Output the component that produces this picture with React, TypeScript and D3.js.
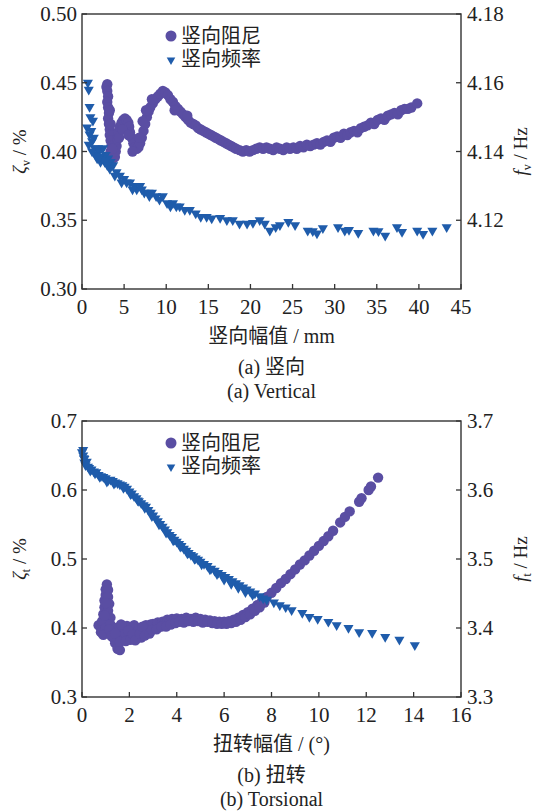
import React from 'react';
import * as d3 from 'd3';

// (a) vertical: amplitude in mm vs damping ratio (%) and frequency (Hz)
const vertDamp: [number, number][] = [
  [2.9, 0.447], [3.0, 0.449], [3.0, 0.444], [3.1, 0.440], [3.0, 0.436], [3.1, 0.432], [3.2, 0.428],
  [3.1, 0.424], [3.2, 0.420], [3.3, 0.416], [3.3, 0.412], [3.4, 0.408], [3.5, 0.404], [3.4, 0.400],
  [3.6, 0.397], [3.7, 0.395], [3.9, 0.396], [4.0, 0.400], [4.1, 0.404], [4.2, 0.409], [4.3, 0.414],
  [4.5, 0.418], [4.7, 0.421], [4.9, 0.423], [5.1, 0.424], [5.3, 0.423], [5.5, 0.421], [5.6, 0.418],
  [5.7, 0.414], [5.9, 0.410], [6.1, 0.406], [6.3, 0.403], [6.5, 0.402], [6.7, 0.403], [6.9, 0.406],
  [7.1, 0.410], [7.3, 0.415], [7.5, 0.420], [7.7, 0.425], [7.9, 0.429], [8.1, 0.432], [8.4, 0.435],
  [8.7, 0.438], [9.0, 0.440], [9.3, 0.442], [9.6, 0.444], [9.9, 0.443], [10.2, 0.441], [10.5, 0.438],
  [10.8, 0.436], [11.1, 0.433], [11.4, 0.431], [11.7, 0.429], [12.0, 0.427], [12.3, 0.425], [12.6, 0.423],
  [12.9, 0.421], [13.2, 0.420], [13.5, 0.419], [13.8, 0.417], [14.1, 0.416], [14.4, 0.415], [14.7, 0.414],
  [15.0, 0.413], [15.3, 0.412], [15.6, 0.411], [15.9, 0.410], [16.2, 0.409], [16.5, 0.408], [16.8, 0.407],
  [17.1, 0.406], [17.4, 0.405], [17.7, 0.404], [18.0, 0.403], [18.3, 0.402], [18.7, 0.401], [19.1, 0.400],
  [19.5, 0.401], [19.9, 0.400], [20.3, 0.401], [20.7, 0.402], [21.1, 0.403], [21.5, 0.402], [21.9, 0.403],
  [22.3, 0.402], [22.7, 0.401], [23.1, 0.403], [23.5, 0.402], [23.9, 0.401], [24.3, 0.403], [24.7, 0.402],
  [25.1, 0.403], [25.5, 0.402], [25.9, 0.404], [26.3, 0.403], [26.7, 0.405], [27.1, 0.404], [27.5, 0.405],
  [27.9, 0.406], [28.3, 0.405], [28.7, 0.407], [29.1, 0.408], [29.5, 0.407], [29.9, 0.410], [30.3, 0.411],
  [30.7, 0.410], [31.1, 0.413], [31.5, 0.412], [31.9, 0.414], [32.3, 0.415], [32.7, 0.414], [33.1, 0.417],
  [33.5, 0.418], [33.9, 0.419], [34.3, 0.421], [34.7, 0.420], [35.1, 0.423], [35.5, 0.424], [35.9, 0.423],
  [36.3, 0.426], [36.7, 0.427], [37.1, 0.428], [37.5, 0.427], [37.9, 0.430], [38.3, 0.431], [38.7, 0.431],
  [39.1, 0.432], [39.8, 0.435], [3.3, 0.430], [3.4, 0.420], [3.6, 0.402], [4.4, 0.410], [4.8, 0.416],
  [5.5, 0.412], [6.0, 0.400], [6.8, 0.410], [7.2, 0.422], [7.6, 0.430], [8.3, 0.438], [11.0, 0.430],
  [12.5, 0.426],
];

const vertFreq: [number, number][] = [
  [0.7, 4.160], [0.8, 4.158], [0.9, 4.153], [1.3, 4.149], [0.6, 4.147], [0.9, 4.145], [1.2, 4.143],
  [1.5, 4.141], [2.0, 4.140], [2.5, 4.141], [1.8, 4.138], [2.2, 4.137], [2.8, 4.139], [3.1, 4.138],
  [3.4, 4.137], [3.7, 4.136], [4.1, 4.134], [4.5, 4.133], [5.0, 4.132], [5.3, 4.131], [5.7, 4.131],
  [6.2, 4.130], [6.5, 4.129], [6.9, 4.130], [7.4, 4.128], [7.9, 4.128], [8.3, 4.128], [8.8, 4.127],
  [9.2, 4.126], [9.6, 4.127], [10.1, 4.125], [10.5, 4.124], [10.8, 4.125], [11.2, 4.124], [11.6, 4.124],
  [12.2, 4.123], [12.8, 4.123], [13.5, 4.122], [14.1, 4.121], [14.8, 4.121], [15.4, 4.1205], [16.4, 4.1207],
  [17.2, 4.120], [17.9, 4.120], [18.7, 4.119], [19.6, 4.119], [20.3, 4.1192], [21.1, 4.120], [21.7, 4.119],
  [22.3, 4.117], [23.0, 4.118], [23.5, 4.1186], [24.5, 4.1195], [25.3, 4.1186], [26.8, 4.117], [27.4, 4.1168],
  [27.9, 4.1162], [28.6, 4.1177], [30.4, 4.118], [31.2, 4.117], [31.7, 4.1172], [32.8, 4.1163], [34.6, 4.117],
  [35.2, 4.1168], [36.0, 4.1155], [37.4, 4.118], [38.0, 4.1166], [39.8, 4.117], [40.5, 4.116], [41.6, 4.117],
  [43.3, 4.118], [1.0, 4.150], [1.1, 4.146], [1.4, 4.144], [0.8, 4.142], [1.6, 4.139], [2.4, 4.138],
  [2.7, 4.137], [3.0, 4.136], [1.2, 4.140], [1.9, 4.141], [2.1, 4.1385], [3.3, 4.135], [3.9, 4.133],
  [4.7, 4.131], [6.0, 4.129], [7.1, 4.129], [8.0, 4.127],
];

// (b) torsional: amplitude in degrees
const torDamp: [number, number][] = [
  [0.7, 0.404], [0.8, 0.394], [0.85, 0.410], [0.9, 0.420], [0.95, 0.430], [0.95, 0.440], [1.0, 0.448],
  [1.0, 0.456], [1.05, 0.463], [1.1, 0.455], [1.1, 0.445], [1.15, 0.435], [1.1, 0.425], [1.2, 0.415],
  [1.0, 0.400], [0.9, 0.390], [1.2, 0.405], [1.3, 0.395], [1.35, 0.385], [1.4, 0.378], [1.5, 0.370],
  [1.6, 0.368], [1.45, 0.400], [1.55, 0.390], [1.7, 0.385], [1.7, 0.398], [1.8, 0.392], [1.9, 0.403],
  [2.0, 0.388], [2.1, 0.396], [2.2, 0.404], [2.3, 0.390], [2.4, 0.398], [2.5, 0.386], [2.6, 0.397],
  [2.7, 0.404], [2.8, 0.398], [2.9, 0.405], [3.0, 0.406], [3.1, 0.401], [3.2, 0.408], [3.3, 0.404],
  [3.4, 0.409], [3.5, 0.407], [3.6, 0.412], [3.7, 0.410], [3.8, 0.413], [3.9, 0.411], [4.0, 0.414],
  [4.2, 0.413], [4.4, 0.415], [4.6, 0.413], [4.8, 0.415], [5.0, 0.413], [5.2, 0.412], [5.4, 0.411],
  [5.6, 0.410], [5.8, 0.409], [6.0, 0.409], [6.2, 0.410], [6.4, 0.412], [6.6, 0.415], [6.8, 0.419],
  [7.0, 0.423], [7.2, 0.428], [7.4, 0.433], [7.6, 0.439], [7.8, 0.445], [8.0, 0.451], [8.2, 0.458],
  [8.4, 0.465], [8.6, 0.471], [8.8, 0.478], [9.0, 0.485], [9.2, 0.492], [9.4, 0.498], [9.6, 0.505],
  [9.8, 0.512], [10.0, 0.519], [10.2, 0.526], [10.4, 0.533], [10.6, 0.541], [10.9, 0.553], [11.1, 0.561],
  [11.3, 0.569], [11.7, 0.583], [11.8, 0.588], [12.1, 0.600], [12.2, 0.605], [12.5, 0.618],
  [1.0, 0.436], [0.95, 0.418], [1.15, 0.398], [1.25, 0.388], [1.4, 0.392], [1.6, 0.380], [1.65, 0.405],
  [1.85, 0.381], [1.95, 0.396], [2.05, 0.383], [2.15, 0.391], [2.25, 0.382], [2.45, 0.392], [2.55, 0.402],
  [2.65, 0.389], [2.85, 0.392], [2.95, 0.397], [3.15, 0.398], [3.35, 0.402], [3.55, 0.402], [3.75, 0.405],
  [3.95, 0.407], [4.1, 0.409], [4.3, 0.408], [4.5, 0.410], [4.7, 0.409], [4.9, 0.410], [5.1, 0.408],
  [5.3, 0.409], [5.5, 0.407], [5.7, 0.406], [5.9, 0.406], [6.1, 0.406], [6.3, 0.407], [6.5, 0.409],
  [6.7, 0.412], [6.9, 0.416], [7.1, 0.420], [7.3, 0.425], [7.5, 0.430], [7.7, 0.437],
];

const torFreq: [number, number][] = [
  [0.05, 3.658], [0.05, 3.650], [0.1, 3.645], [0.1, 3.640], [0.15, 3.636], [0.2, 3.641], [0.25, 3.634],
  [0.3, 3.632], [0.4, 3.630], [0.5, 3.627], [0.6, 3.626], [0.7, 3.622], [0.8, 3.620], [0.9, 3.619],
  [1.0, 3.617], [1.1, 3.614], [1.2, 3.615], [1.3, 3.613], [1.4, 3.611], [1.5, 3.610], [1.6, 3.608],
  [1.7, 3.607], [1.8, 3.605], [1.9, 3.602], [2.0, 3.598], [2.1, 3.595], [2.2, 3.591], [2.3, 3.588],
  [2.4, 3.584], [2.5, 3.581], [2.6, 3.578], [2.7, 3.576], [2.8, 3.571], [2.9, 3.567], [3.0, 3.563],
  [3.1, 3.559], [3.2, 3.555], [3.3, 3.551], [3.4, 3.547], [3.5, 3.543], [3.6, 3.539], [3.7, 3.535],
  [3.8, 3.532], [3.9, 3.528], [4.0, 3.525], [4.1, 3.522], [4.2, 3.519], [4.3, 3.515], [4.4, 3.512],
  [4.5, 3.509], [4.6, 3.506], [4.7, 3.504], [4.8, 3.501], [4.9, 3.499], [5.0, 3.496], [5.15, 3.493],
  [5.3, 3.490], [5.45, 3.486], [5.6, 3.483], [5.75, 3.480], [5.9, 3.477], [6.05, 3.474], [6.2, 3.471],
  [6.35, 3.468], [6.5, 3.465], [6.65, 3.462], [6.8, 3.459], [6.95, 3.456], [7.1, 3.453], [7.3, 3.450],
  [7.5, 3.446], [7.65, 3.443], [7.8, 3.441], [8.1, 3.437], [8.35, 3.433], [8.6, 3.430], [8.85, 3.426],
  [9.3, 3.422], [9.6, 3.416], [9.95, 3.413], [10.4, 3.409], [10.75, 3.404], [11.25, 3.400], [11.7, 3.394],
  [12.25, 3.393], [12.8, 3.387], [13.4, 3.383], [14.05, 3.375],
  [0.0, 3.655], [0.08, 3.646], [0.35, 3.628], [0.55, 3.624], [0.75, 3.619], [1.05, 3.612], [1.35, 3.609],
  [1.75, 3.603], [2.05, 3.594], [2.35, 3.585], [2.65, 3.574], [2.95, 3.562], [3.25, 3.550], [3.55, 3.538],
  [3.85, 3.527], [4.15, 3.518], [4.45, 3.508], [4.75, 3.500], [5.05, 3.492], [5.4, 3.485], [5.7, 3.478],
  [6.0, 3.470], [6.3, 3.464], [6.6, 3.458], [6.9, 3.452], [7.2, 3.448],
];

const vertXTicks = [0, 5, 10, 15, 20, 25, 30, 35, 40, 45];
const vertLeftTicks = [0.30, 0.35, 0.40, 0.45, 0.50];
const vertRightTicks = [4.12, 4.14, 4.16, 4.18];
const torXTicks = [0, 2, 4, 6, 8, 10, 12, 14, 16];
const torLeftTicks = [0.3, 0.4, 0.5, 0.6, 0.7];
const torRightTicks = [3.3, 3.4, 3.5, 3.6, 3.7];

const legendLabels = ['竖向阻尼', '竖向频率'];

const PURPLE = '#5a4ea3';
const BLUE = '#1f5cab';
const AXIS = '#333';
const FONT = "'Liberation Serif', 'Times New Roman', 'Noto Sans CJK SC', serif";

const tri = d3.symbol().type(d3.symbolTriangle).size(44)();
const triLegend = d3.symbol().type(d3.symbolTriangle).size(32)();

type PanelProps = {
  top: number;
  bottom: number;
  damp: [number, number][];
  freq: [number, number][];
  xDomain: [number, number];
  leftDomain: [number, number];
  rightDomain: [number, number];
  xTicks: number[];
  leftTicks: number[];
  rightTicks: number[];
  leftFmt: string;
  rightFmt: string;
  sub: string;
  xTitle: string;
  caption: string[];
};

const Panel = (p: PanelProps) => {
  const left = 82;
  const right = 461;
  const x = d3.scaleLinear().domain(p.xDomain).range([left, right]);
  const yl = d3.scaleLinear().domain(p.leftDomain).range([p.bottom, p.top]);
  const yr = d3.scaleLinear().domain(p.rightDomain).range([p.bottom, p.top]);
  const fl = d3.format(p.leftFmt);
  const fr = d3.format(p.rightFmt);
  const midY = (p.top + p.bottom) / 2;

  return (
    <g fontFamily={FONT} fill="#222">
      {/* data */}
      {p.damp.map((d, i) => (
        <circle key={'d' + i} cx={x(d[0])} cy={yl(d[1])} r={5.2} fill={PURPLE} />
      ))}
      {p.freq.map((d, i) => (
        <path key={'f' + i} d={tri} transform={`translate(${x(d[0])},${yr(d[1])}) rotate(180)`} fill={BLUE} />
      ))}

      {/* frame */}
      <rect x={left} y={p.top} width={right - left} height={p.bottom - p.top} fill="none" stroke={AXIS} strokeWidth={1.4} />

      {p.xTicks.map((t) => (
        <g key={'x' + t}>
          <line x1={x(t)} x2={x(t)} y1={p.bottom} y2={p.bottom - 5} stroke={AXIS} strokeWidth={1.3} />
          <text x={x(t)} y={p.bottom + 25} textAnchor="middle" fontSize={21}>{t}</text>
        </g>
      ))}
      {p.leftTicks.map((t) => (
        <g key={'l' + t}>
          <line x1={left} x2={left + 5} y1={yl(t)} y2={yl(t)} stroke={AXIS} strokeWidth={1.3} />
          <text x={left - 5} y={yl(t) + 7} textAnchor="end" fontSize={21}>{fl(t)}</text>
        </g>
      ))}
      {p.rightTicks.map((t) => (
        <g key={'r' + t}>
          <line x1={right - 5} x2={right} y1={yr(t)} y2={yr(t)} stroke={AXIS} strokeWidth={1.3} />
          <text x={right + 6} y={yr(t) + 7} textAnchor="start" fontSize={21}>{fr(t)}</text>
        </g>
      ))}

      {/* axis titles */}
      <text transform={`translate(26,${midY}) rotate(-90)`} textAnchor="middle" fontSize={19}>
        <tspan fontStyle="italic">ζ</tspan>
        <tspan fontSize={12} dy={4}>{p.sub}</tspan>
        <tspan dy={-4}> / %</tspan>
      </text>
      <text transform={`translate(527,${midY}) rotate(-90)`} textAnchor="middle" fontSize={19}>
        <tspan fontStyle="italic">f</tspan>
        <tspan fontSize={12} dy={4}>{p.sub}</tspan>
        <tspan dy={-4}> / Hz</tspan>
      </text>
      <text x={(left + right) / 2} y={p.bottom + 54} textAnchor="middle" fontSize={20}>{p.xTitle}</text>
      <text x={(left + right) / 2} y={p.bottom + 85} textAnchor="middle" fontSize={20}>{p.caption[0]}</text>
      <text x={(left + right) / 2} y={p.bottom + 109} textAnchor="middle" fontSize={20}>{p.caption[1]}</text>

      {/* legend */}
      <circle cx={171} cy={p.top + 22} r={5.5} fill={PURPLE} />
      <text x={181} y={p.top + 29} fontSize={20}>{legendLabels[0]}</text>
      <path d={triLegend} transform={`translate(171,${p.top + 46}) rotate(180)`} fill={BLUE} />
      <text x={181} y={p.top + 52} fontSize={20}>{legendLabels[1]}</text>
    </g>
  );
};

const App = () => (
  <svg width={540} height={812} style={{ position: 'absolute', left: 0, top: 0, background: '#fff' }}>
    <Panel
      top={14}
      bottom={289}
      damp={vertDamp}
      freq={vertFreq}
      xDomain={[0, 45]}
      leftDomain={[0.3, 0.5]}
      rightDomain={[4.1, 4.18]}
      xTicks={vertXTicks}
      leftTicks={vertLeftTicks}
      rightTicks={vertRightTicks}
      leftFmt=".2f"
      rightFmt=".2f"
      sub="v"
      xTitle="竖向幅值 / mm"
      caption={['(a) 竖向', '(a) Vertical']}
    />
    <Panel
      top={421}
      bottom={697}
      damp={torDamp}
      freq={torFreq}
      xDomain={[0, 16]}
      leftDomain={[0.3, 0.7]}
      rightDomain={[3.3, 3.7]}
      xTicks={torXTicks}
      leftTicks={torLeftTicks}
      rightTicks={torRightTicks}
      leftFmt=".1f"
      rightFmt=".1f"
      sub="t"
      xTitle="扭转幅值 / (°)"
      caption={['(b) 扭转', '(b) Torsional']}
    />
  </svg>
);

export default App;
